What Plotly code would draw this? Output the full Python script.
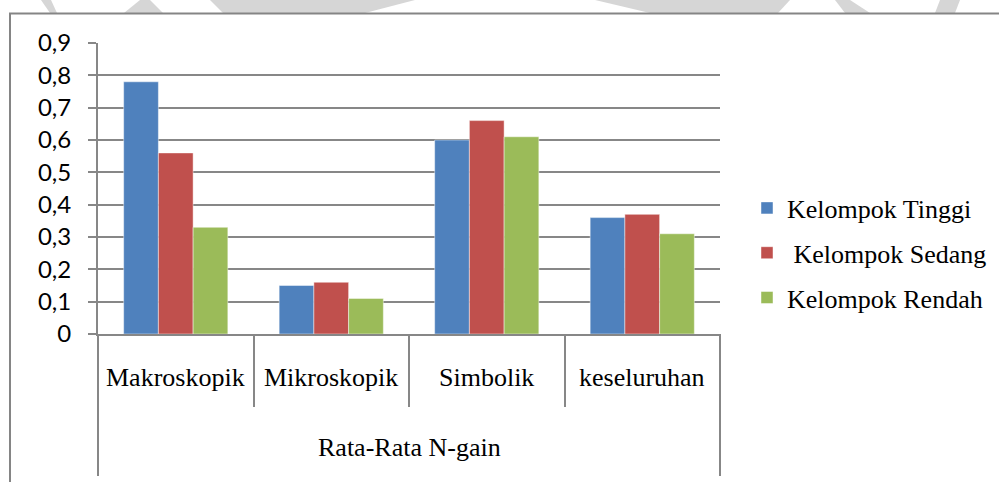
import plotly.graph_objects as go

# ---- data ----
categories = ["Makroskopik", "Mikroskopik", "Simbolik", "keseluruhan"]
group_label = "Rata-Rata N-gain"
series_names = ["Kelompok Tinggi", "\u00a0Kelompok Sedang", "Kelompok Rendah"]
tinggi = [0.78, 0.15, 0.60, 0.36]
sedang = [0.56, 0.16, 0.66, 0.37]
rendah = [0.33, 0.11, 0.61, 0.31]
series_values = [tinggi, sedang, rendah]
colors = ["#4F81BD", "#C0504D", "#9BBB59"]
y_tickvals = [0, 0.1, 0.2, 0.3, 0.4, 0.5, 0.6, 0.7, 0.8, 0.9]
y_ticktext = ["0", "0,1", "0,2", "0,3", "0,4", "0,5", "0,6", "0,7", "0,8", "0,9"]

W, H = 999, 482
GRID = "#878787"
SERIF = "Liberation Serif, Times New Roman, serif"
SANS = "Lato, Carlito, Open Sans, sans-serif"

fig = go.Figure()
for i, (name, vals, col) in enumerate(zip(series_names, series_values, colors)):
    fig.add_trace(go.Bar(
        x=categories, y=vals, name=name, legendgroup=f"g{i}",
        marker=dict(color=col, line=dict(color="rgba(255,255,255,0.45)", width=1)),
    ))

def py(px):
    return 1 - px / H

shapes = []
# faint watermark pieces above the chart border
wm = "#d6d6d6"
polys = [
    [(41, 0), (51, 0), (57, 13), (50, 13)],
    [(140, 0), (150, 0), (163, 13), (124, 13)],
    [(210, 0), (415, 0), (365, 13), (223, 13)],
    [(595, 0), (790, 0), (778, 13), (650, 13)],
    [(835, 0), (850, 0), (870, 13), (845, 13)],
    [(940, 0), (960, 0), (955, 13), (935, 13)],
]
for p in polys:
    path = "M " + " L ".join(f"{x / W},{py(y)}" for x, y in p) + " Z"
    shapes.append(dict(type="path", xref="paper", yref="paper", path=path,
                       fillcolor=wm, line=dict(width=0), layer="below"))
# chart border (extends beyond right/bottom edges)
shapes.append(dict(type="rect", xref="paper", yref="paper",
                   x0=10 / W, x1=1.05, y0=-0.05, y1=py(13.5),
                   line=dict(color="#858585", width=2), fillcolor="white", layer="below"))
# outer group dividers
for xd in (0, 1):
    shapes.append(dict(type="line", xref="x domain", yref="paper",
                       x0=xd, x1=xd, y0=py(476), y1=py(334),
                       line=dict(color=GRID, width=2)))

annotations = []
for c in categories:
    annotations.append(dict(x=c, xref="x", y=py(377), yref="paper", text=c,
                            showarrow=False, yanchor="middle", xanchor="center",
                            font=dict(family=SERIF, size=26, color="black")))
annotations.append(dict(x=0.5, xref="x domain", y=py(447), yref="paper", text=group_label,
                        showarrow=False, yanchor="middle", xanchor="center",
                        font=dict(family=SERIF, size=26, color="black")))

fig.update_layout(
    width=W, height=H,
    margin=dict(l=0, r=0, t=0, b=0, autoexpand=False),
    paper_bgcolor="white", plot_bgcolor="white",
    barmode="group", bargap=0.33, bargroupgap=0,
    shapes=shapes, annotations=annotations,
    xaxis=dict(domain=[98 / W, 720 / W], type="category", automargin=False,
               showticklabels=False, showgrid=False,
               ticks="outside", tickson="boundaries", ticklen=71,
               tickwidth=2, tickcolor=GRID,
               showline=True, linecolor=GRID, linewidth=2, zeroline=False,
               fixedrange=True),
    yaxis=dict(domain=[py(334), py(43)], range=[0, 0.9], automargin=False,
               tickvals=y_tickvals, ticktext=y_ticktext,
               showgrid=True, gridcolor=GRID, gridwidth=2,
               ticks="outside", ticklen=8, tickwidth=2, tickcolor=GRID,
               showline=True, linecolor=GRID, linewidth=2, zeroline=False,
               tickfont=dict(family=SANS, size=24, color="black"),
               ticklabelstandoff=12, fixedrange=True),
    legend=dict(x=747 / W, xanchor="left", y=py(253), yanchor="middle",
                traceorder="grouped", tracegroupgap=8,
                font=dict(family=SERIF, size=26, color="black"),
                bgcolor="rgba(0,0,0,0)", borderwidth=0),
    showlegend=True,
)

fig.write_html("out.html")
